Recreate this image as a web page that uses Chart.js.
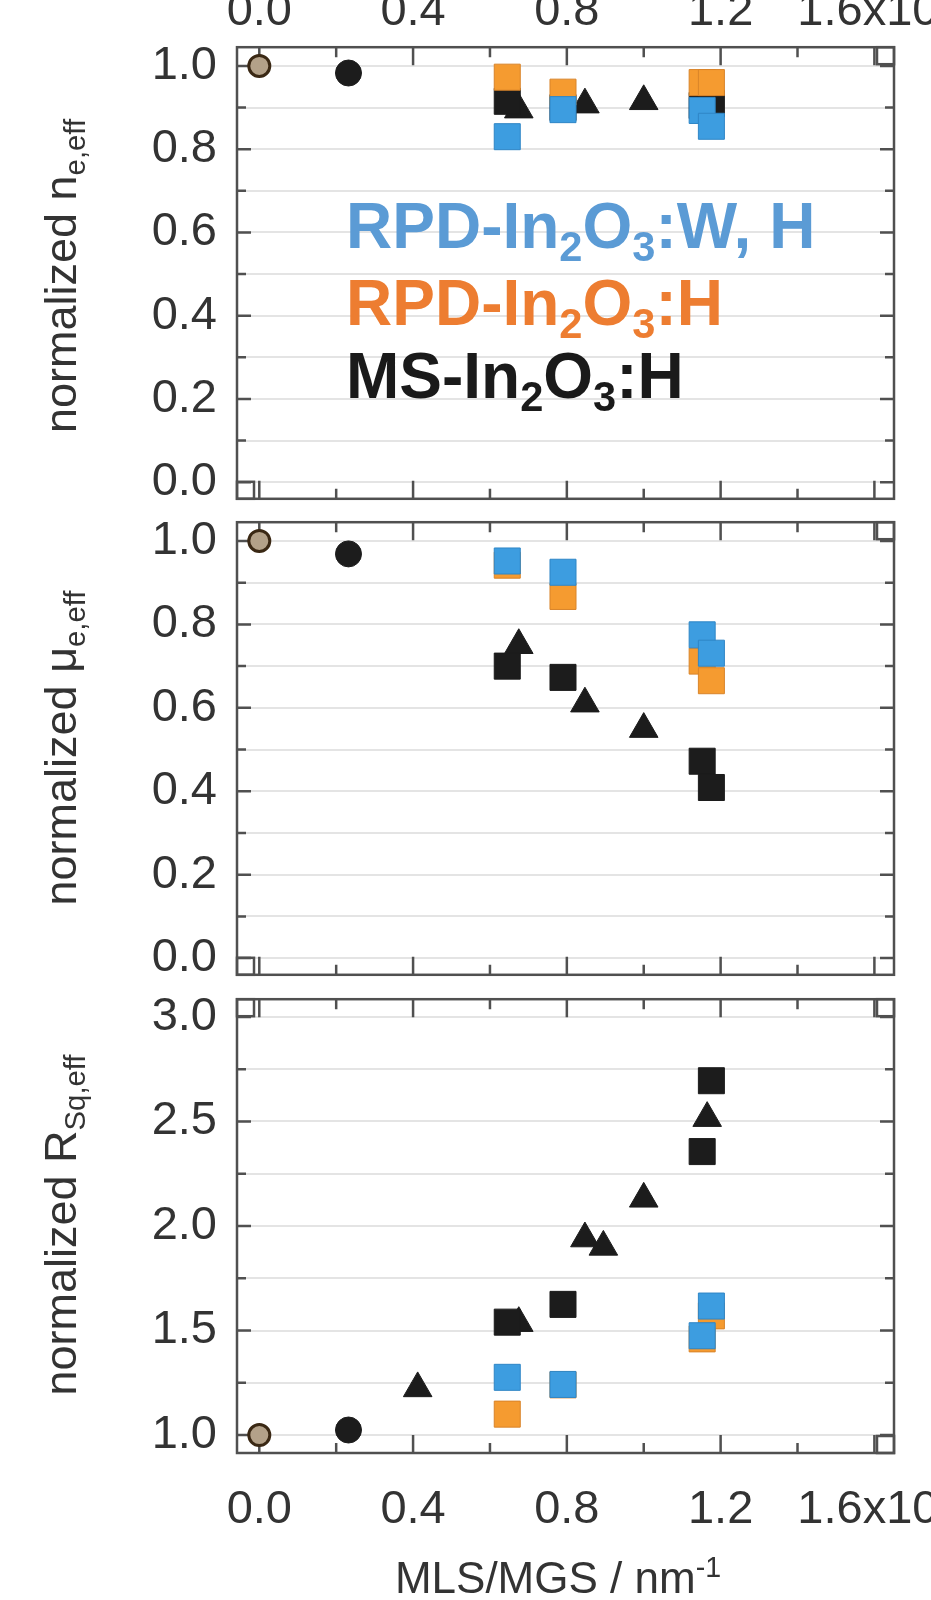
<!DOCTYPE html>
<html>
<head>
<meta charset="utf-8">
<script src="https://cdn.jsdelivr.net/npm/chart.js@4.4.0/dist/chart.umd.min.js"></script>
<style>
  html, body { margin: 0; padding: 0; background: #fff; width: 931px; height: 1600px; overflow: hidden; }
  body { position: relative; font-family: "Liberation Sans", Arial, sans-serif; }
  .panel { position: absolute; left: 0; width: 1000px; }
  .ytitle { position: absolute; font-size: 45px; line-height: 1; color: #333; white-space: nowrap;
            transform: translate(-50%, -50%) rotate(-90deg); }
  .xtitle { position: absolute; font-size: 44px; line-height: 1; color: #333; white-space: nowrap;
            transform: translateX(-50%); }
  .sub { position: relative; top: 0.32em; font-size: 0.65em; }
  .sup { position: relative; top: -0.55em; font-size: 0.65em; }
  .legend { position: absolute; left: 346px; font-size: 64px; line-height: 1; font-weight: bold; white-space: nowrap; }
</style>
</head>
<body>
<div class="panel" style="top:-1px;height:548px"><canvas id="pN"></canvas></div>
<div class="panel" style="top:474px;height:549px"><canvas id="pMu"></canvas></div>
<div class="panel" style="top:951px;height:649px"><canvas id="pR"></canvas></div>

<div class="ytitle" style="left:60px;top:276px">normalized n<span class="sub">e,eff</span></div>
<div class="ytitle" style="left:60px;top:748px">normalized μ<span class="sub">e,eff</span></div>
<div class="ytitle" style="left:60px;top:1225px">normalized R<span class="sub">Sq,eff</span></div>
<div class="xtitle" style="left:558px;top:1556px">MLS/MGS / nm<span class="sup">-1</span></div>

<div class="legend" style="top:194px;color:#5b9bd5">RPD-In<span class="sub">2</span>O<span class="sub">3</span>:W, H</div>
<div class="legend" style="top:271px;color:#ed7d31">RPD-In<span class="sub">2</span>O<span class="sub">3</span>:H</div>
<div class="legend" style="top:344px;color:#1a1a1a">MS-In<span class="sub">2</span>O<span class="sub">3</span>:H</div>

<script>
// x positions (MLS/MGS) of each marker family
const xSq = [0.645, 0.79, 1.152, 1.176];
const xTri = [0.412, 0.675, 0.847, 0.895, 1.0, 1.165];
const xCirc = [0.232];
const xRef = [0];

// normalized n_e,eff
const blueN = [0.83, 0.895, 0.893, 0.855];
const orangeN = [0.973, 0.937, 0.96, 0.96];
const blackSqN = [0.915, 0.9, 0.905, 0.91];
const triN = [null, 0.895, 0.907, null, 0.915, null];
const circN = [0.983];

// normalized mu_e,eff
const blueMu = [0.952, 0.925, 0.775, 0.731];
const orangeMu = [0.942, 0.867, 0.712, 0.665];
const blackSqMu = [0.7, 0.673, 0.472, 0.409];
const triMu = [null, 0.75, 0.61, null, 0.549, null];
const circMu = [0.969];

// normalized R_Sq,eff
const blueR = [1.276, 1.242, 1.475, 1.617];
const orangeR = [1.1, 1.24, 1.46, 1.57];
const blackSqR = [1.54, 1.625, 2.356, 2.695];
const triR = [1.223, 1.535, 1.94, 1.9, 2.13, 2.516];
const circR = [1.024];

const refY = [1.0];

// axis ticks
const xTickVals = [0, 0.2, 0.4, 0.6, 0.8, 1.0, 1.2, 1.4, 1.6];
const xLabelVals = [0, 0.4, 0.8, 1.2, 1.6];
const xLabelText = ["0.0", "0.4", "0.8", "1.2", "1.6x10 "];
const fracTicks = [0, 0.1, 0.2, 0.3, 0.4, 0.5, 0.6, 0.7, 0.8, 0.9, 1.0];
const fracLabels = [0, 0.2, 0.4, 0.6, 0.8, 1.0];
const rTicks = [1.0, 1.25, 1.5, 1.75, 2.0, 2.25, 2.5, 2.75, 3.0];
const rLabels = [1.0, 1.5, 2.0, 2.5, 3.0];

const FONT = '"Liberation Sans", Arial, sans-serif';
const TICK_SIZE = 47;
const TEXT = "#333";
const FRAME = "#505050";

function pts(xs, ys) {
  return xs.map((x, i) => ({ x, y: ys[i] })).filter((p) => p.y !== null);
}

/* frame, inward ticks and the little corner boxes */
const frameLines = {
  id: "frameLines",
  beforeDatasetsDraw(chart, args, opts) {
    const { ctx, chartArea: a, scales } = chart;
    const x = scales.x, y = scales.y;
    ctx.save();
    ctx.strokeStyle = FRAME;
    ctx.lineWidth = 2.5;
    ctx.beginPath();
    xTickVals.forEach((v) => {
      const px = x.getPixelForValue(v);
      const len = xLabelVals.includes(v) ? 18 : 10;
      ctx.moveTo(px, a.top); ctx.lineTo(px, a.top + len);
      ctx.moveTo(px, a.bottom); ctx.lineTo(px, a.bottom - len);
    });
    opts.yTicks.forEach((v) => {
      const py = y.getPixelForValue(v);
      const len = opts.yLabels.includes(v) ? 14 : 9;
      ctx.moveTo(a.left, py); ctx.lineTo(a.left + len, py);
      ctx.moveTo(a.right, py); ctx.lineTo(a.right - len, py);
    });
    ctx.stroke();
    ctx.strokeRect(a.left, a.top, a.width, a.height);
    const s = 17;
    (opts.corners || []).forEach((c) => {
      const cx = c[1] === "l" ? a.left : a.right - s;
      const cy = c[0] === "t" ? a.top : a.bottom - s;
      ctx.strokeRect(cx, cy, s, s);
    });
    ctx.restore();
  },
  afterDraw(chart, args, opts) {
    if (!opts.topLabels) return;
    const { ctx, scales: { x } } = chart;
    ctx.save();
    ctx.fillStyle = TEXT;
    ctx.font = TICK_SIZE + "px " + FONT;
    ctx.textAlign = "center";
    ctx.textBaseline = "alphabetic";
    xLabelVals.forEach((v, i) => ctx.fillText(xLabelText[i], x.getPixelForValue(v), 26));
    ctx.restore();
  },
};

function makePanel(id, cfg) {
  const datasets = [
    { data: pts(xSq, cfg.blue), pointStyle: "rect", pointRadius: 18.4, backgroundColor: "#3d9de0", borderColor: "#2f86c6", borderWidth: 1 },
    { data: pts(xSq, cfg.orange), pointStyle: "rect", pointRadius: 18.4, backgroundColor: "#f59b30", borderColor: "#d9842a", borderWidth: 1 },
    { data: pts(xSq, cfg.blackSq), pointStyle: "rect", pointRadius: 18.4, backgroundColor: "#1c1c1c", borderColor: "#1c1c1c", borderWidth: 1 },
    { data: pts(xTri, cfg.tri), pointStyle: "triangle", pointRadius: 16.5, backgroundColor: "#1c1c1c", borderColor: "#1c1c1c", borderWidth: 1 },
    { data: pts(xCirc, cfg.circ), pointStyle: "circle", pointRadius: 13, backgroundColor: "#1c1c1c", borderColor: "#1c1c1c", borderWidth: 1 },
    { data: pts(xRef, refY), pointStyle: "circle", pointRadius: 10.5, backgroundColor: "#b3a189", borderColor: "#3a2814", borderWidth: 3 },
  ];

  new Chart(document.getElementById(id), {
    type: "scatter",
    data: { datasets },
    options: {
      responsive: true,
      maintainAspectRatio: false,
      animation: false,
      events: [],
      layout: { padding: cfg.padding },
      plugins: {
        legend: { display: false },
        tooltip: { enabled: false },
        frameLines: { yTicks: cfg.yTicks, yLabels: cfg.yLabels, corners: cfg.corners, topLabels: cfg.topLabels },
      },
      scales: {
        x: {
          type: "linear",
          min: -0.058,
          max: 1.651,
          display: cfg.showX,
          border: { display: false },
          grid: { display: false, drawTicks: false },
          afterBuildTicks: (s) => { s.ticks = xLabelVals.map((v) => ({ value: v })); },
          afterFit: (s) => { if (cfg.showX) s.height = 100; },
          ticks: {
            autoSkip: false,
            maxRotation: 0,
            padding: 29,
            color: TEXT,
            font: { family: FONT, size: TICK_SIZE },
            callback: (v, i) => xLabelText[i],
          },
        },
        y: {
          type: "linear",
          min: cfg.yMin,
          max: cfg.yMax,
          border: { display: false },
          grid: { color: "#e4e4e4", lineWidth: 2, drawTicks: false },
          afterBuildTicks: (s) => { s.ticks = cfg.yTicks.map((v) => ({ value: v })); },
          afterFit: (s) => { s.width = 237; },
          ticks: {
            autoSkip: false,
            padding: 20,
            color: TEXT,
            font: { family: FONT, size: TICK_SIZE },
            callback: (v) => (cfg.yLabels.includes(v) ? v.toFixed(1) : ""),
          },
        },
      },
    },
    plugins: [frameLines],
  });
}

makePanel("pN", {
  blue: blueN, orange: orangeN, blackSq: blackSqN, tri: triN, circ: circN,
  yMin: -0.04, yMax: 1.045, yTicks: fracTicks, yLabels: fracLabels,
  padding: { top: 46, bottom: 0, left: 0, right: 106 },
  corners: ["tr", "bl"], topLabels: true, showX: false,
});
makePanel("pMu", {
  blue: blueMu, orange: orangeMu, blackSq: blackSqMu, tri: triMu, circ: circMu,
  yMin: -0.04, yMax: 1.045, yTicks: fracTicks, yLabels: fracLabels,
  padding: { top: 0, bottom: 0, left: 0, right: 106 },
  corners: ["tr", "bl"], topLabels: false, showX: false,
});
makePanel("pR", {
  blue: blueR, orange: orangeR, blackSq: blackSqR, tri: triR, circ: circR,
  yMin: 0.914, yMax: 3.085, yTicks: rTicks, yLabels: rLabels,
  padding: { top: 0, bottom: 47, left: 0, right: 106 },
  corners: ["tl", "tr", "br"], topLabels: false, showX: true,
});
</script>
</body>
</html>
